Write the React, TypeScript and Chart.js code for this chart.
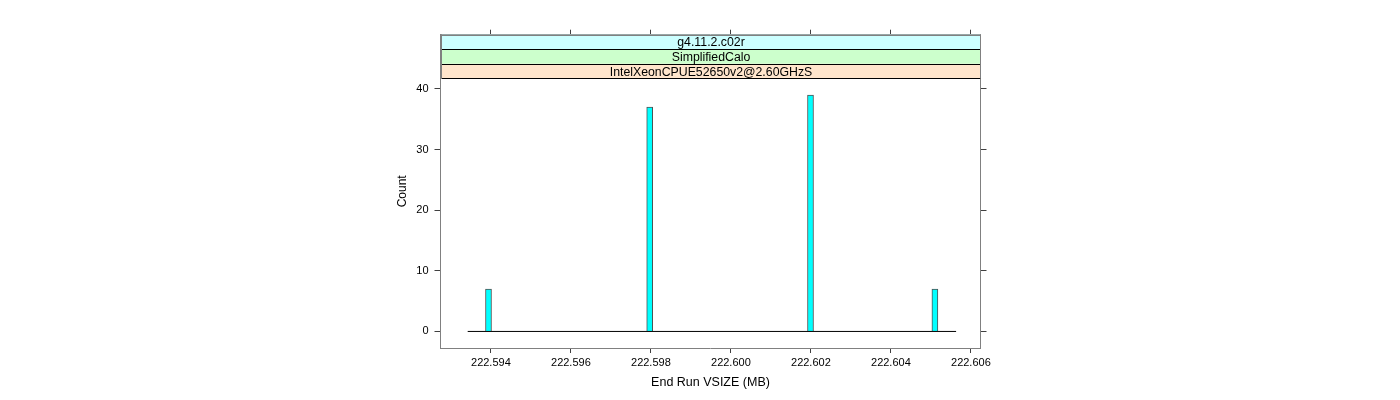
import React, { useEffect, useRef } from "react";
import { Chart, registerables } from "chart.js";

Chart.register(...registerables);

// ---- data ----
const binCenters = [222.59394, 222.59797, 222.60199, 222.6051];
const counts = [7, 37, 39, 7];
const baselineX = [222.59342, 222.60563];
const baselineY = [0, 0];
const xTicks = [222.594, 222.596, 222.598, 222.6, 222.602, 222.604, 222.606];
const yTicks = [0, 10, 20, 30, 40];
const stripLabels = ["g4.11.2.c02r", "SimplifiedCalo", "IntelXeonCPUE52650v2@2.60GHzS"];
const stripColors = ["#CCFFFF", "#CCFFCC", "#FFE5CC"];
const xTitle = "End Run VSIZE (MB)";
const yTitle = "Count";

// ---- layout constants ----
const X_MIN = 222.59274;
const X_MAX = 222.60624;
const Y_MIN = -2.73;
const PANEL_TOP = 41.73;
const Y_MAX = 48.95;
const FONT = '"Liberation Sans", Arial, Helvetica, sans-serif';
const BORDER = "#808080";
const TICKCOL = "#404040";

const stripPlugin = {
  id: "strips",
  afterDraw(chart: any) {
    const { ctx, chartArea } = chart;
    const yScale = chart.scales.y;
    const panelTop = yScale.getPixelForValue(PANEL_TOP);
    const left = Math.round(chartArea.left) + 0.5;
    const right = Math.round(chartArea.right) - 0.5;
    const top = chartArea.top;
    const h = (panelTop - top) / stripLabels.length;
    ctx.save();
    stripLabels.forEach((label: string, i: number) => {
      const t = top + i * h;
      ctx.fillStyle = stripColors[i];
      ctx.fillRect(left, t, right - left, h);
    });
    ctx.lineWidth = 1;
    for (let i = 0; i <= stripLabels.length; i++) {
      const yy = Math.round(top + i * h) + 0.5;
      ctx.strokeStyle = i === 0 ? BORDER : "#000";
      ctx.beginPath();
      ctx.moveTo(left, yy);
      ctx.lineTo(right, yy);
      ctx.stroke();
    }
    ctx.strokeStyle = BORDER;
    ctx.beginPath();
    ctx.moveTo(left, top);
    ctx.lineTo(left, panelTop);
    ctx.moveTo(right, top);
    ctx.lineTo(right, panelTop);
    ctx.stroke();
    ctx.fillStyle = "#000";
    ctx.font = `12.3px ${FONT}`;
    ctx.textAlign = "center";
    ctx.textBaseline = "middle";
    stripLabels.forEach((label: string, i: number) => {
      const t = top + i * h;
      ctx.fillText(label, (left + right) / 2, t + h / 2 + 1);
    });
    ctx.restore();
  },
};

export default function App() {
  const ref = useRef<HTMLCanvasElement | null>(null);

  useEffect(() => {
    if (!ref.current) return;
    const setX = (s: any) => {
      s.ticks = xTicks.map((v) => ({ value: v }));
    };
    const setY = (s: any) => {
      s.ticks = yTicks.map((v) => ({ value: v }));
    };
    const chart = new Chart(ref.current, {
      type: "bar",
      data: {
        datasets: [
          {
            type: "bar",
            data: binCenters.map((x, i) => ({ x, y: counts[i] })),
            backgroundColor: "#00FFFF",
            borderColor: "#505050",
            borderWidth: 1,
            barThickness: 6,
            grouped: false,
            order: 2,
          } as any,
          {
            type: "line",
            data: baselineX.map((x, i) => ({ x, y: baselineY[i] })),
            borderColor: "#000",
            borderWidth: 1,
            pointRadius: 0,
            order: 1,
          } as any,
        ],
      },
      options: {
        responsive: false,
        devicePixelRatio: 1,
        animation: false,
        layout: { padding: { left: 372.5, right: 399.5, top: 20.7, bottom: 0 } },
        plugins: { legend: { display: false }, tooltip: { enabled: false } },
        scales: {
          x: {
            type: "linear",
            position: "bottom",
            min: X_MIN,
            max: X_MAX,
            offset: false,
            afterBuildTicks: setX,
            afterFit: (s: any) => {
              s.height = 44;
            },
            ticks: {
              callback: (v: any) => Number(v).toFixed(3),
              font: { size: 11, family: FONT },
              color: "#000",
              padding: 3.4,
              maxRotation: 0,
              autoSkip: false,
            },
            grid: { drawOnChartArea: false, drawTicks: true, tickLength: 5, color: TICKCOL, offset: false },
            border: { color: BORDER, width: 1 },
            title: {
              display: true,
              text: xTitle,
              font: { size: 12.5, family: FONT },
              color: "#000",
              padding: { top: 0, bottom: 1.6 },
            },
          },
          x2: {
            type: "linear",
            position: "top",
            min: X_MIN,
            max: X_MAX,
            offset: false,
            afterBuildTicks: setX,
            afterFit: (s: any) => {
              s.height = 6;
            },
            ticks: { display: false },
            grid: { drawOnChartArea: false, drawTicks: true, tickLength: 5, color: TICKCOL, offset: false },
            border: { color: BORDER, width: 1 },
          },
          y: {
            type: "linear",
            position: "left",
            min: Y_MIN,
            max: Y_MAX,
            afterBuildTicks: setY,
            afterFit: (s: any) => {
              s.width = 60;
            },
            ticks: {
              font: { size: 11, family: FONT },
              color: "#000",
              padding: 6,
            },
            grid: { drawOnChartArea: false, drawTicks: true, tickLength: 6, color: TICKCOL },
            border: { color: BORDER, width: 1 },
            title: {
              display: true,
              text: yTitle,
              font: { size: 12, family: FONT },
              color: "#000",
              padding: { top: 14.8, bottom: 0 },
            },
          },
          y2: {
            type: "linear",
            position: "right",
            min: Y_MIN,
            max: Y_MAX,
            afterBuildTicks: setY,
            afterFit: (s: any) => {
              s.width = 12;
            },
            ticks: { display: false },
            grid: { drawOnChartArea: false, drawTicks: true, tickLength: 6, color: TICKCOL },
            border: { color: BORDER, width: 1 },
          },
        },
      },
      plugins: [stripPlugin],
    });
    return () => chart.destroy();
  }, []);

  return (
    <div style={{ width: 1384, height: 384 }}>
      <canvas ref={ref} width={1384} height={384} style={{ display: "block" }} />
    </div>
  );
}
